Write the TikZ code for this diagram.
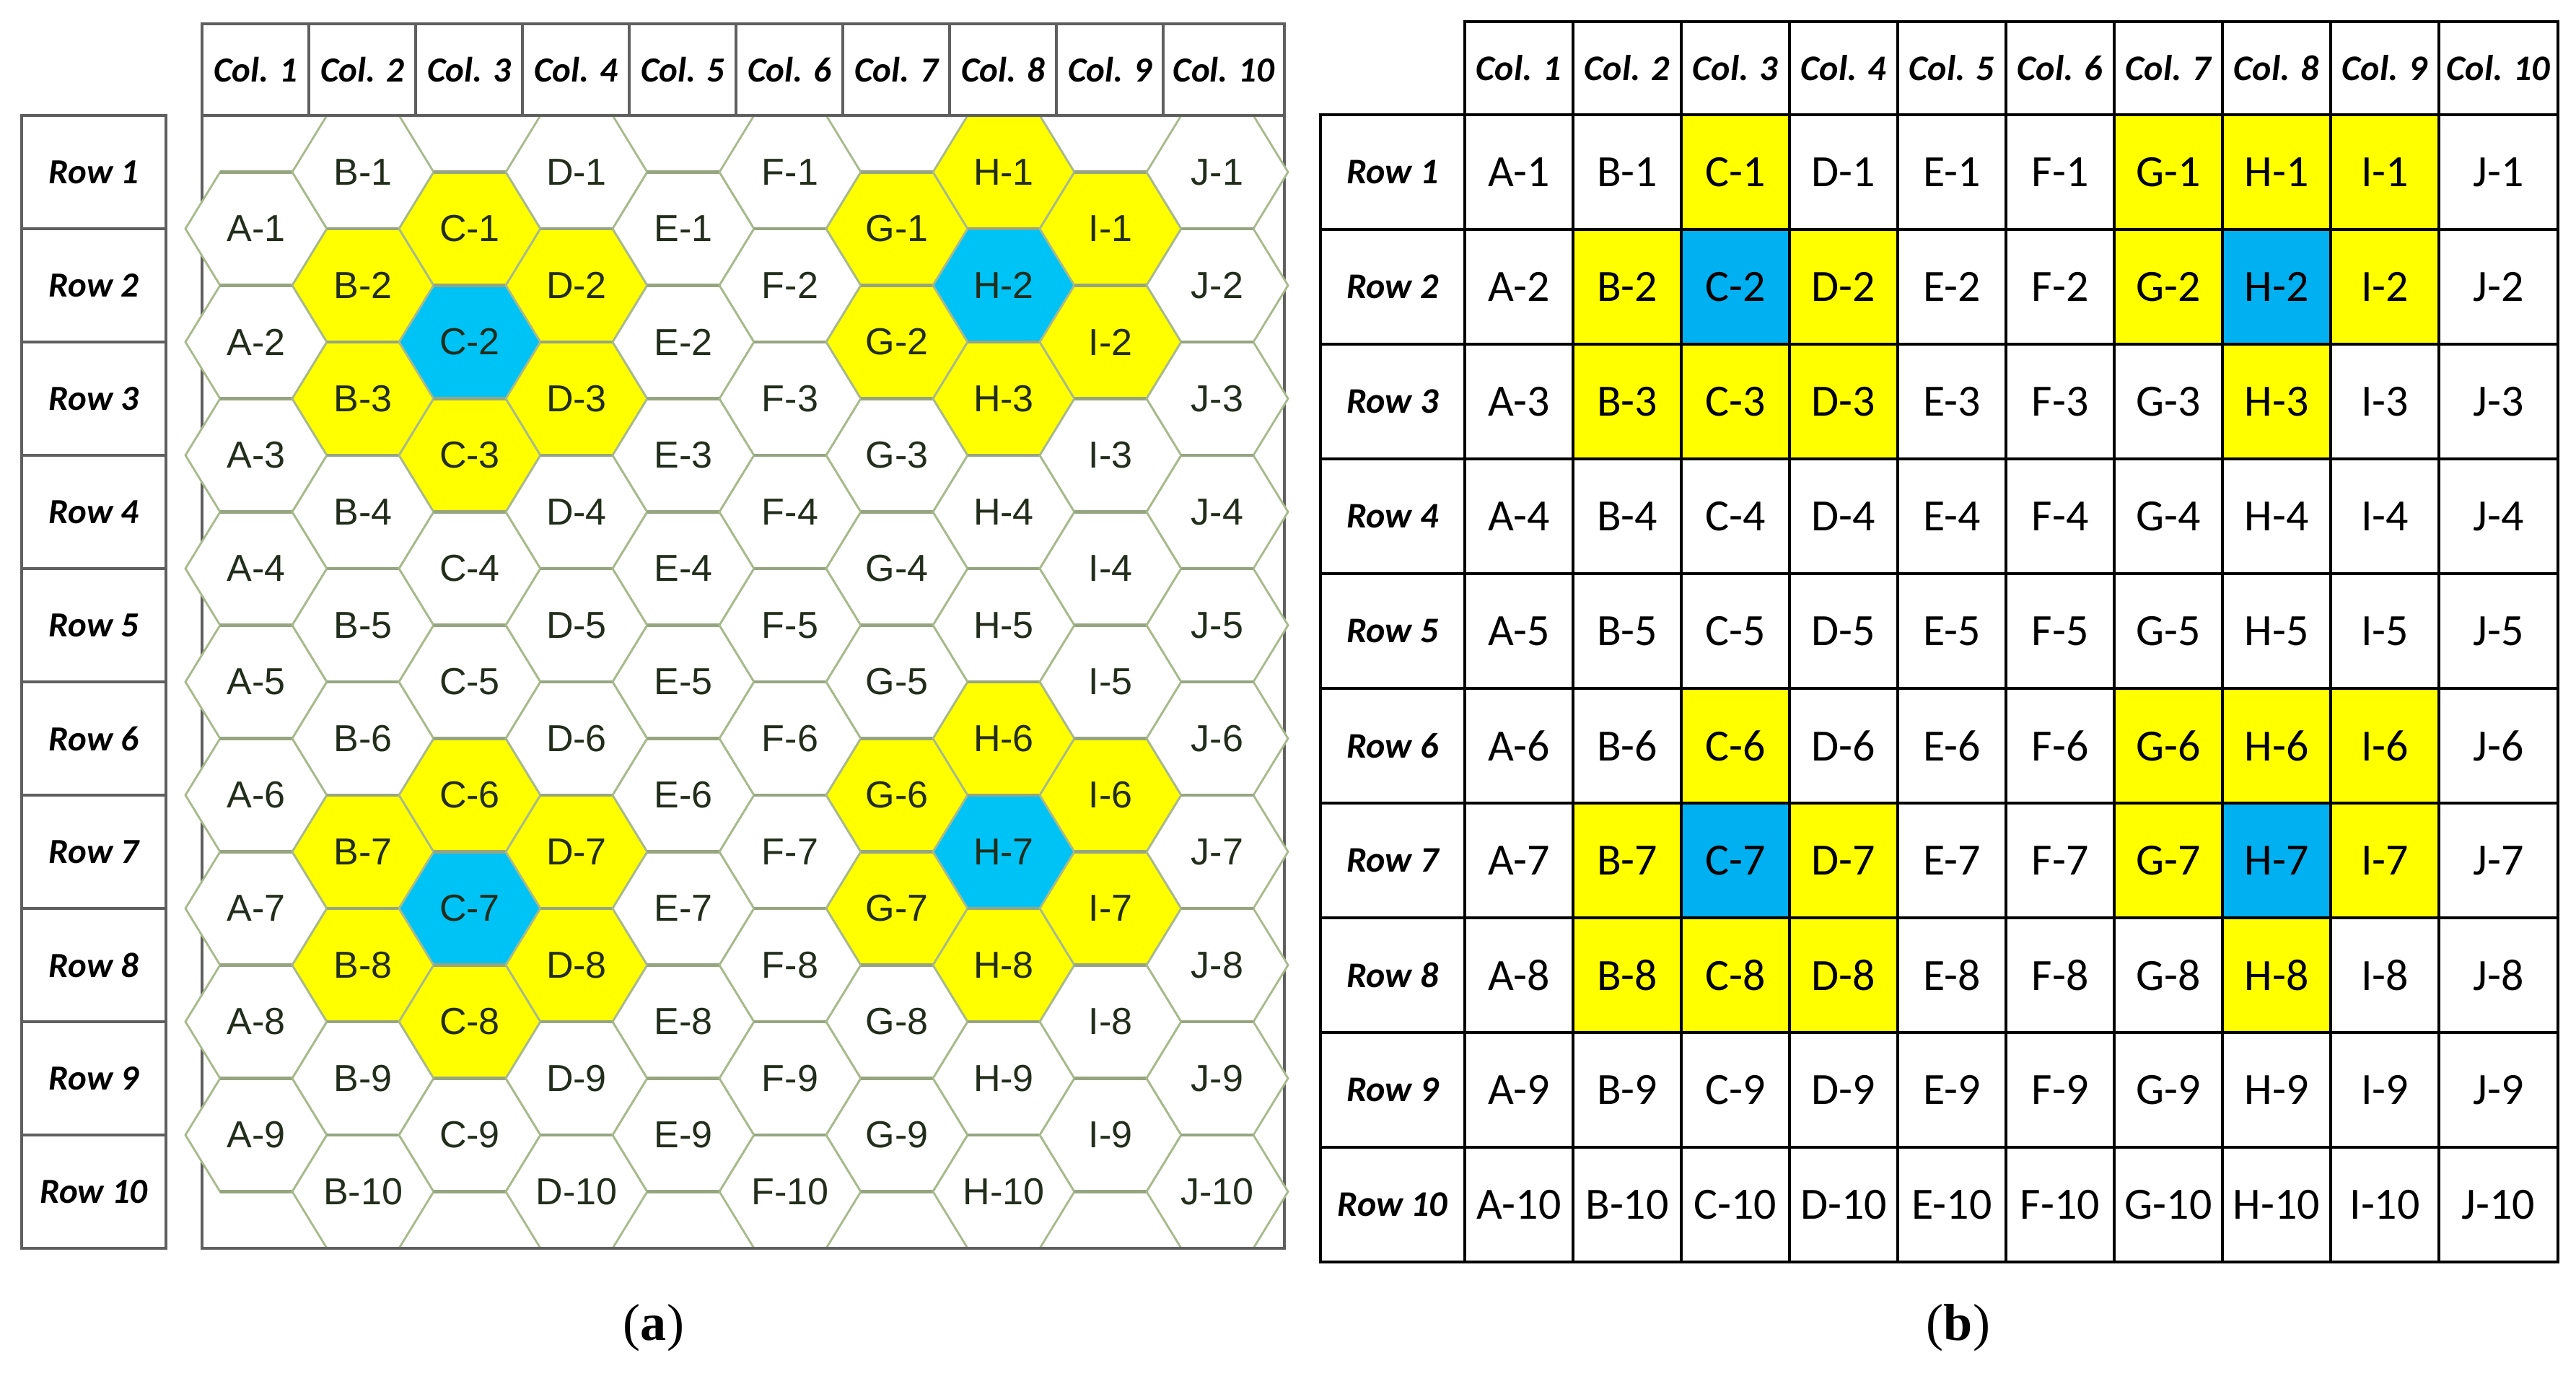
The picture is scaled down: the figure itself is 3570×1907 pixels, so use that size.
\documentclass[tikz,border=0pt]{standalone}
\usepackage{fontspec}
\setmainfont{Liberation Sans}
\newfontfamily\calfont{Carlito}
\newfontfamily\serfont{Liberation Serif}
\definecolor{hexyel}{RGB}{255,255,0}
\definecolor{hexblu}{RGB}{0,195,245}
\definecolor{tabyel}{RGB}{255,255,0}
\definecolor{tabblu}{RGB}{0,176,240}
\definecolor{hexedge}{RGB}{168,185,140}
\definecolor{hexedgeh}{RGB}{150,165,128}
\definecolor{framegray}{RGB}{95,95,95}
\definecolor{labgray}{RGB}{35,45,28}
\newcommand\setkinds[2]{\foreach \c in {#1}{\expandafter\xdef\csname kind\c\endcsname{#2}}}
\setkinds{C1,B2,D2,B3,D3,C3,G1,H1,I1,G2,I2,H3,C6,B7,D7,B8,D8,C8,G6,H6,I6,G7,I7,H8}{y}
\setkinds{C2,H2,C7,H7}{b}
\newcommand\pickfill[3]{\def\fc{white}\ifcsname kind#1\endcsname\if y\csname kind#1\endcsname\def\fc{#2}\else\def\fc{#3}\fi\fi}
\tikzset{
  hexline/.style={draw=hexedge, line width=0.8pt, line join=miter},
  hexhor/.style={draw=hexedgeh, line width=1.2pt},
  hexlab/.style={text=labgray, inner sep=0pt, font=\fontsize{14.8pt}{17pt}\selectfont},
  frameA/.style={draw=framegray, line width=1.4pt, line cap=rect},
  headA/.style={inner sep=0pt, font=\calfont\bfseries\itshape\fontsize{13.9pt}{16pt}\selectfont},
  gridB/.style={draw=black, line width=1.15pt, line cap=rect},
  headB/.style={inner sep=0pt, font=\calfont\bfseries\itshape\fontsize{14.2pt}{16pt}\selectfont},
  cellB/.style={inner sep=0pt, font=\calfont\fontsize{17.6pt}{20pt}\selectfont},
  capt/.style={inner sep=0pt, font=\serfont\fontsize{20.5pt}{24pt}\selectfont}
}
\begin{document}
\begin{tikzpicture}[x=0.01cm,y=-0.01cm]
\useasboundingbox (0,0) rectangle (3570,1907);
% ---------------- panel (a) ----------------
\draw[frameA] (280,33) rectangle (1780,1730);
\foreach \k in {1,...,9}{\draw[frameA] ({280+148*\k},33) -- ({280+148*\k},160);}
\draw[frameA] (30,160) rectangle (230,1730);
\foreach \k in {1,...,9}{\draw[frameA] (30,{160+157*\k}) -- (230,{160+157*\k});}
\foreach \k in {1,...,10}{
  \pgfmathsetmacro\cxx{ifthenelse(\k==10,1696,280+148*(\k-0.5))}
  \node[headA] (ca\k) at (\cxx,96.5) {Col. \k};
  \node[headA] (ra\k) at (130,{160+157*(\k-0.5)}) {Row \k};
}
\foreach \i/\lt in {0/A,1/B,2/C,3/D,4/E,5/F,6/G,7/H,8/I,9/J}{
  \foreach \rr in {1,...,10}{
    \pgfmathtruncatemacro\odd{mod(\i,2)}
    \pgfmathtruncatemacro\shw{or(\odd==1,\rr<10)}
    \ifnum\shw=1
      \pgfmathsetmacro\cx{355+148*\i}
      \pgfmathsetmacro\cy{ifthenelse(\odd==1,238.5,317)+157*(\rr-1)}
      \pickfill{\lt\rr}{hexyel}{hexblu}
      \draw[hexline,fill=\fc] (\cx-98,\cy) -- (\cx-50,\cy-78.5) -- (\cx+50,\cy-78.5)
        -- (\cx+98,\cy) -- (\cx+50,\cy+78.5) -- (\cx-50,\cy+78.5) -- cycle;
      \draw[hexhor] (\cx-50,\cy-78.5) -- (\cx+50,\cy-78.5)
        (\cx-50,\cy+78.5) -- (\cx+50,\cy+78.5);
      \node[hexlab] (a-\lt\rr) at (\cx,\cy) {\lt-\rr};
    \fi
  }
}
\draw[frameA] (280,160) -- (1780,160);
\draw[frameA] (280,1730) -- (1780,1730);
\node[capt] (capa) at (906,1840) {(\textbf{a})};
% ---------------- panel (b) ----------------
\foreach \i/\lt in {0/A,1/B,2/C,3/D,4/E,5/F,6/G,7/H,8/I,9/J}{
  \foreach \rr in {1,...,10}{
    \pgfmathsetmacro\xl{2030+150*\i}
    \pgfmathsetmacro\xr{ifthenelse(\i==9,3545,2180+150*\i)}
    \pgfmathsetmacro\yt{159*\rr}
    \pickfill{\lt\rr}{tabyel}{tabblu}
    \fill[fill=\fc] (\xl,\yt) rectangle (\xr,\yt+159);
    \node[cellB] (b-\lt\rr) at ({(\xl+\xr)/2},{\yt+79.5}) {\lt-\rr};
  }
}
\draw[gridB] (2030,30) -- (3545,30);
\foreach \k in {0,...,10}{\draw[gridB] (1830,{159+159*\k}) -- (3545,{159+159*\k});}
\foreach \k in {0,...,9}{\draw[gridB] ({2030+150*\k},30) -- ({2030+150*\k},1749);}
\draw[gridB] (3545,30) -- (3545,1749);
\draw[gridB] (1830,159) -- (1830,1749);
\foreach \k in {1,...,10}{
  \pgfmathsetmacro\cxx{ifthenelse(\k==10,3462.5,2030+150*(\k-0.5))}
  \node[headB] (cb\k) at (\cxx,94.5) {Col. \k};
  \node[headB] (rb\k) at (1930,{159*\k+79.5}) {Row \k};
}
\node[capt] (capb) at (2714,1840) {(\textbf{b})};
\end{tikzpicture}
\end{document}
